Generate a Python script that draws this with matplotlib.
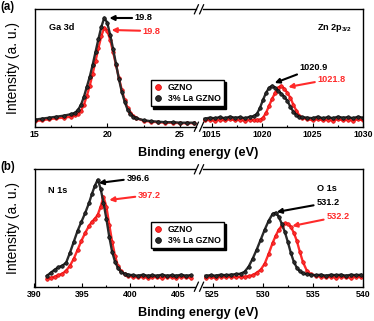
import matplotlib
matplotlib.use("Agg")
import matplotlib.pyplot as plt
from matplotlib.lines import Line2D
from matplotlib.ticker import MultipleLocator

plt.rcParams['font.family'] = ['Liberation Sans', 'DejaVu Sans']
plt.rcParams['font.weight'] = 'bold'
plt.rcParams['mathtext.fontset'] = 'custom'
plt.rcParams['mathtext.rm'] = 'Liberation Sans:bold'
plt.rcParams['mathtext.bf'] = 'Liberation Sans:bold'

# ---- data (intensity in arbitrary units) ----
ga_e = [15.0, 15.5, 16.0, 16.5, 17.0, 17.5, 17.8, 18.0, 18.2, 18.4, 18.6, 18.8, 19.0, 19.2,
        19.4, 19.6, 19.8, 20.0, 20.2, 20.4, 20.6, 20.8, 21.0, 21.2, 21.4, 21.6, 21.8, 22.0,
        22.5, 23.0, 23.5, 24.0, 24.5, 25.0, 25.5, 26.0]
ga_gzno = [5.5, 6.5, 7.5, 8.5, 9, 10, 11.5, 13, 16, 22, 31, 41, 53, 66,
           79, 91, 99, 96, 87, 75, 62, 49, 37, 27, 19, 14, 10.5, 8.5,
           6, 5, 4.5, 4, 4, 3.5, 3.5, 3.5]
ga_la = [7, 8, 9, 10, 11, 12.5, 14, 17, 22, 30, 40, 50, 62, 75,
         88, 100, 109, 104, 92, 78, 63, 48, 35, 25, 17, 13, 10, 8.5,
         6.5, 5.5, 5, 4.5, 4.5, 4, 4, 4]

zn_e = [1014.3, 1014.8, 1015.3, 1015.8, 1016.3, 1016.8, 1017.3, 1017.8, 1018.3, 1018.8,
        1019.2, 1019.5, 1019.8, 1020.1, 1020.4, 1020.7, 1021.0, 1021.3, 1021.6, 1021.9,
        1022.2, 1022.5, 1022.8, 1023.1, 1023.4, 1023.7, 1024.0, 1024.5, 1025.0, 1025.5,
        1026.0, 1026.5, 1027.0, 1027.5, 1028.0, 1028.5, 1029.0, 1029.5, 1030.0]
zn_gzno = [6.5, 7, 6, 7, 6.5, 7.5, 6.5, 7, 6, 7,
           6.5, 7, 7, 9, 14, 21, 28, 34, 39, 41,
           38, 34, 29, 22, 16, 11, 9, 7.5, 6.5, 7.5,
           6.5, 7, 6, 7.5, 6.5, 7, 6, 7.5, 6.5]
zn_la = [8, 9, 8.5, 9.5, 8.5, 10, 9, 9.5, 8.5, 10,
         10.5, 13, 19, 27, 34, 39, 41, 39, 36, 33,
         30, 26, 20, 15, 11.5, 10, 9.5, 9, 8.5, 10,
         8.5, 9.5, 8.5, 10, 9, 9.5, 8.5, 10, 9]

n_e = [391.3, 391.7, 392.1, 392.5, 392.9, 393.3, 393.7, 394.1, 394.5, 394.9, 395.3, 395.7,
       396.0, 396.3, 396.6, 396.9, 397.2, 397.5, 397.8, 398.1, 398.4, 398.7, 399.0, 399.4,
       399.8, 400.3, 400.8, 401.3, 401.8, 402.3, 402.8, 403.3, 403.8, 404.3, 404.8, 405.3,
       405.8, 406.3]
n_gzno = [8, 9, 10, 11.5, 13, 16, 21, 28, 37, 46, 54, 61,
          65, 68, 72, 80, 90, 80, 62, 45, 31, 21, 16, 12.5,
          11, 10, 9.5, 10, 9, 10, 9.5, 9, 10, 9.5, 9, 10,
          9.5, 9]
n_la = [11, 14, 17, 19.5, 21, 24, 34, 45, 56, 65, 74, 84,
        93, 101, 107, 98, 84, 68, 50, 35, 25, 19, 15, 13,
        12, 11.5, 11, 12, 11, 11.5, 11, 12, 11, 11.5, 11, 12,
        11, 11.5]

o_e = [524.3, 524.8, 525.3, 525.8, 526.3, 526.8, 527.3, 527.8, 528.2, 528.6, 529.0, 529.4,
       529.8, 530.2, 530.6, 531.0, 531.3, 531.6, 531.9, 532.2, 532.5, 532.8, 533.1, 533.4,
       533.7, 534.0, 534.4, 534.8, 535.3, 535.8, 536.3, 536.8, 537.3, 537.8, 538.3, 538.8,
       539.3, 539.8]
o_gzno = [9, 9.5, 9, 10, 9.5, 10, 9.5, 10, 10, 10.5, 11.5, 14,
          17, 23, 33, 44, 51, 57, 61, 63.5, 63, 60, 54, 46,
          35, 25, 16, 12.5, 11, 10, 9.5, 10, 9, 10, 9.5, 9,
          10, 9.5]
o_la = [11, 11.5, 11, 12, 11.5, 12, 12.5, 13, 15, 20, 28, 37,
        47, 57, 66, 73, 74, 70, 63, 55, 45, 34, 25, 19,
        15.5, 13.5, 12.5, 12, 11.5, 12, 11, 12, 11.5, 12, 11, 12,
        11.5, 12]

RED = '#ff2a2a'
RED_EDGE = '#d40000'
BLK = '#2a2a2a'

W, H = 374, 321
fig = plt.figure(figsize=(W / 100, H / 100), dpi=100)


def rect(x0, x1, ytop, ybot):
    return [x0 / W, 1 - ybot / H, (x1 - x0) / W, (ybot - ytop) / H]


def style(ax, major, minor):
    ax.set_ylim(0, 117.4)
    ax.set_yticks([])
    ax.xaxis.set_major_locator(MultipleLocator(major))
    ax.xaxis.set_minor_locator(MultipleLocator(minor))
    ax.tick_params(axis='x', which='major', direction='in', length=3.2, width=0.8,
                   labelsize=6.3, pad=2.5)
    ax.tick_params(axis='x', which='minor', direction='in', length=1.8, width=0.8)
    for s in ax.spines.values():
        s.set_linewidth(1.0)


def series(ax, e, red, black):
    ax.plot(e, red, '-o', color=RED, lw=1.7, ms=2.6, mfc=RED, mec=RED_EDGE, mew=0.4)
    ax.plot(e, black, '-o', color=BLK, lw=1.7, ms=2.6, mfc=BLK, mec='black', mew=0.4)


def note(ax, text, tip, pos, color):
    ax.annotate(text, xy=tip, xytext=pos, ha='left', va='center', fontsize=6.6,
                color=color, fontweight='bold',
                arrowprops=dict(arrowstyle='-|>', color=color, lw=1.5, mutation_scale=7,
                                shrinkA=0, shrinkB=0))


def breakmarks(axl, axr):
    bl = axl.get_position()
    br = axr.get_position()
    xm = (bl.x1 + br.x0) / 2
    dx, dy = 2.0 / W, 4.5 / H
    for y in (bl.y0, bl.y1):
        for off in (-2.6 / W, 2.6 / W):
            fig.add_artist(Line2D([xm + off - dx, xm + off + dx], [y - dy, y + dy],
                                  color='black', lw=0.9))


panels = [
    dict(ytop=9.3, ybot=126.7, lim_l=(15, 26.07), lim_r=(1014.1, 1030),
         label='(a)', leg_y=80),
    dict(ytop=169.3, ybot=286.7, lim_l=(390, 406.8), lim_r=(524.0, 540),
         label='(b)', leg_y=221.5),
]

axes = []
for p in panels:
    axl = fig.add_axes(rect(34.5, 195.5, p['ytop'], p['ybot']))
    axr = fig.add_axes(rect(202.5, 363, p['ytop'], p['ybot']))
    axl.set_xlim(*p['lim_l'])
    axr.set_xlim(*p['lim_r'])
    style(axl, 5, 2.5)
    style(axr, 5, 2.5)
    axl.spines['right'].set_visible(False)
    axr.spines['left'].set_visible(False)
    breakmarks(axl, axr)
    axes.append((axl, axr))
    yc = 1 - (p['ytop'] + p['ybot']) / 2 / H
    fig.text(13 / W, yc, 'Intensity (a. u.)', rotation=90, ha='center', va='center',
             fontsize=10, fontweight='normal')
    fig.text(198.5 / W, 1 - (p['ybot'] + 26.5) / H, 'Binding energy (eV)', ha='center',
             va='center', fontsize=9.2, fontweight='bold')
    fig.text(0.5 / W, 1 - (p['ytop'] - 2.5) / H, p['label'], ha='left', va='center',
             fontsize=8.3, fontweight='bold')
    handles = [Line2D([], [], ls='none', marker='o', ms=4.2, mfc=RED, mec=RED_EDGE, mew=0.5),
               Line2D([], [], ls='none', marker='o', ms=4.2, mfc=BLK, mec='black', mew=0.5)]
    fig.legend(handles, ['GZNO', '3% La GZNO'], loc='upper left',
               bbox_to_anchor=(150.5 / W, 1 - p['leg_y'] / H), fontsize=6.3,
               frameon=True, fancybox=False, edgecolor='black', framealpha=1,
               shadow={'color': 'black', 'alpha': 1, 'ox': 1.6, 'oy': -1.6},
               borderpad=0.35, labelspacing=0.25, handlelength=1.0, handletextpad=0.6,
               borderaxespad=0)

(a_l, a_r), (b_l, b_r) = axes

series(a_l, ga_e, ga_gzno, ga_la)
series(a_r, zn_e, zn_gzno, zn_la)
series(b_l, n_e, n_gzno, n_la)
series(b_r, o_e, o_gzno, o_la)

a_l.text(16.03, 99, 'Ga 3d', fontsize=6.6, va='center')
a_r.text(1025.4, 98.7, r'Zn 2p$_{3/2}$', fontsize=6.6, va='center')
b_l.text(391.4, 96.7, 'N 1s', fontsize=6.6, va='center')
b_r.text(535.4, 98.7, 'O 1s', fontsize=6.6, va='center')

note(a_l, '19.8', (20.15, 108.7), (21.9, 108.7), 'black')
note(a_l, '19.8', (20.3, 96.7), (22.45, 95.7), RED)
note(a_r, '1020.9', (1021.25, 43.7), (1023.74, 58.7), 'black')
note(a_r, '1021.8', (1022.6, 39.7), (1025.5, 47.7), RED)
note(b_l, '396.6', (396.7, 103.7), (399.6, 108.7), 'black')
note(b_l, '397.2', (397.8, 86.7), (400.8, 91.7), RED)
note(b_r, '531.2', (531.4, 74.7), (535.35, 84), 'black')
note(b_r, '532.2', (532.95, 60.7), (536.35, 70), RED)

fig.savefig('out.png', dpi=100)
